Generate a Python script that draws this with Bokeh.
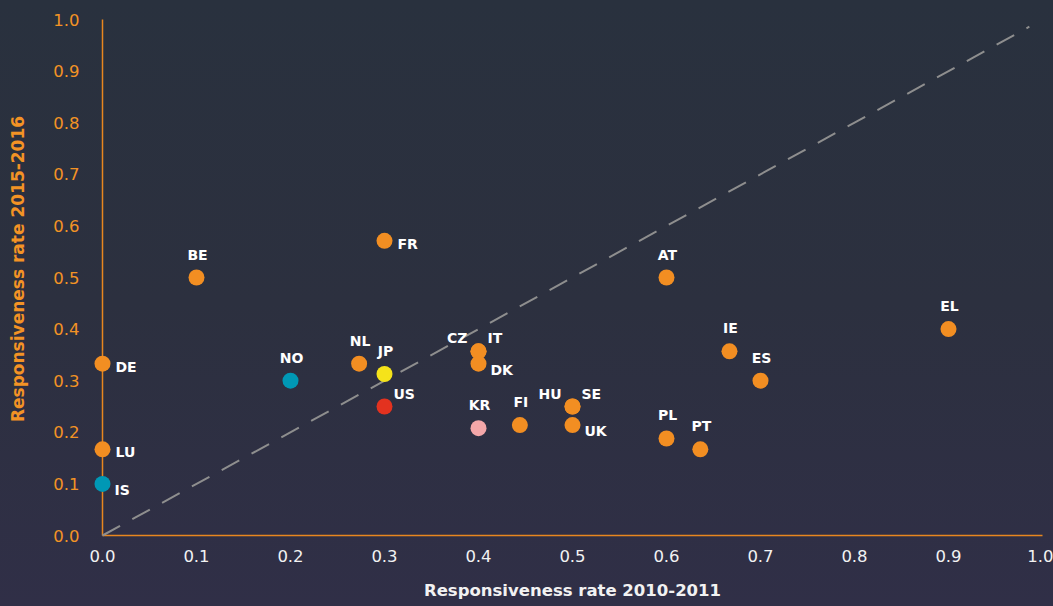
from bokeh.plotting import figure
from bokeh.models import ColumnDataSource, FixedTicker, Range1d, PrintfTickFormatter
from bokeh.embed import file_html
from bokeh.resources import INLINE
from bokeh.core.properties import value

# ---------------- data ----------------
countries = ["DE", "LU", "IS", "BE", "FR", "NL", "JP", "US", "NO", "CZ", "IT", "DK",
             "KR", "FI", "HU", "SE", "UK", "AT", "IE", "ES", "EL", "PL", "PT"]
rate_2010_2011 = [0.0, 0.0, 0.0, 0.1, 0.3, 0.273, 0.3, 0.3, 0.2, 0.4, 0.4, 0.4,
                  0.4, 0.444, 0.5, 0.5, 0.5, 0.6, 0.667, 0.7, 0.9, 0.6, 0.636]
rate_2015_2016 = [0.333, 0.167, 0.1, 0.5, 0.571, 0.333, 0.313, 0.25, 0.3, 0.357, 0.357, 0.333,
                  0.208, 0.214, 0.25, 0.25, 0.214, 0.5, 0.357, 0.3, 0.4, 0.188, 0.167]
groups = ["EU", "EU", "EFTA", "EU", "EU", "EU", "JP", "US", "EFTA", "EU", "EU", "EU",
          "KR", "EU", "EU", "EU", "EU", "EU", "EU", "EU", "EU", "EU", "EU"]
label_place = ["r", "r", "rd", "a", "r", "a", "a", "ur", "a", "ul", "ur", "rd",
               "a", "a", "ul", "ur", "rd", "a", "a", "a", "a", "a", "a"]
x_ticks = [0.0, 0.1, 0.2, 0.3, 0.4, 0.5, 0.6, 0.7, 0.8, 0.9, 1.0]
y_ticks = [0.0, 0.1, 0.2, 0.3, 0.4, 0.5, 0.6, 0.7, 0.8, 0.9, 1.0]
x_title = "Responsiveness rate 2010-2011"
y_title = "Responsiveness rate 2015-2016"

# ---------------- styles ----------------
ORANGE = "#F39325"
AXIS_ORANGE = "#E8861F"
WHITE = "#F2F2F2"
group_colors = {"EU": "#F28E22", "EFTA": "#0098B5", "JP": "#F5E31A", "US": "#E3321F", "KR": "#F4A7A9"}
FONT = "DejaVu Sans"

p = figure(width=1053, height=606, output_backend="svg", toolbar_location=None,
           x_range=Range1d(-11 / 940, 1 + 11 / 940), y_range=Range1d(-2 / 516, 1 + 19 / 516),
           min_border_left=91, min_border_right=0, min_border_top=0, min_border_bottom=69)
p.styles = {"background": "linear-gradient(180deg, #29313E 0%, #2C303F 50%, #302F47 100%)"}
p.background_fill_color = None
p.border_fill_color = None
p.outline_line_color = None
p.xgrid.grid_line_color = None
p.ygrid.grid_line_color = None

# axes
xa = p.xaxis[0]
xa.ticker = FixedTicker(ticks=x_ticks)
xa.formatter = PrintfTickFormatter(format="%.1f")
xa.axis_line_color = None
xa.major_tick_line_color = None
xa.minor_tick_line_color = None
xa.major_tick_out = 0
xa.major_tick_in = 0
xa.major_label_standoff = 12
xa.major_label_text_color = WHITE
xa.major_label_text_font = FONT
xa.major_label_text_font_size = "16.5px"
xa.axis_label = x_title
xa.axis_label_text_color = WHITE
xa.axis_label_text_font = FONT
xa.axis_label_text_font_size = "16.5px"
xa.axis_label_text_font_style = "bold"
xa.axis_label_standoff = 16

ya = p.yaxis[0]
ya.ticker = FixedTicker(ticks=y_ticks)
ya.formatter = PrintfTickFormatter(format="%.1f")
ya.axis_line_color = None
ya.major_tick_line_color = None
ya.minor_tick_line_color = None
ya.major_tick_out = 0
ya.major_tick_in = 0
ya.major_label_standoff = 12
ya.major_label_text_color = ORANGE
ya.major_label_text_font = FONT
ya.major_label_text_font_size = "16.5px"
ya.axis_label = y_title
ya.axis_label_text_color = ORANGE
ya.axis_label_text_font = FONT
ya.axis_label_text_font_size = "17px"
ya.axis_label_text_font_style = "bold"
ya.axis_label_standoff = 22

# axis lines through the origin
p.segment(x0=[0, 0], y0=[0, 0], x1=[x_ticks[-1], 0], y1=[0, y_ticks[-1]],
          line_color=AXIS_ORANGE, line_width=1.5)

# diagonal reference line
p.line(x=[0, 0.986], y=[0, 0.986], line_color="#8E8E8E", line_width=2, line_dash="20 14")

src = ColumnDataSource(dict(
    x=rate_2010_2011, y=rate_2015_2016, name=countries,
    color=[group_colors[g] for g in groups], place=label_place))
p.scatter("x", "y", source=src, size=16, fill_color="color", line_color=None)

offsets = {"r": ("left", 13, 3), "rd": ("left", 12, 6), "a": ("center", 1, -23),
           "ur": ("left", 9, -13), "ul": ("right", -11, -13)}
for key, (align, dx, dy) in offsets.items():
    idx = [i for i, pl in enumerate(label_place) if pl == key]
    s = ColumnDataSource(dict(x=[rate_2010_2011[i] for i in idx],
                              y=[rate_2015_2016[i] for i in idx],
                              t=[countries[i] for i in idx]))
    p.text("x", "y", text="t", source=s, text_align=align, text_baseline="middle",
           x_offset=dx, y_offset=dy, text_color="white", text_font=value(FONT),
           text_font_size="14px", text_font_style="bold")

open("out.html", "w").write(file_html(p, INLINE))
